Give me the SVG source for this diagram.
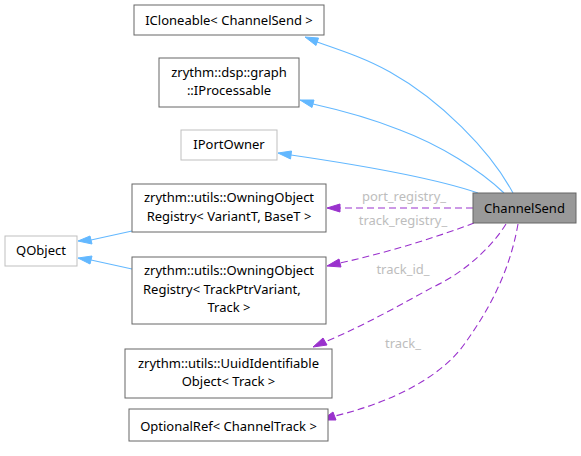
<svg xmlns="http://www.w3.org/2000/svg" width="581" height="456" viewBox="0 0 581 456">
<style>
text{font-family:"Noto Sans","DejaVu Sans",sans-serif;font-size:13px;fill:#000;text-anchor:middle}
.n rect{fill:#fff;stroke:#666;stroke-width:1}
.l rect{fill:#fff;stroke:#bfbfbf;stroke-width:1}
.inh{fill:none;stroke:#63b8ff;stroke-width:1.1}
.use{fill:none;stroke:#9a32cd;stroke-width:1.1;stroke-dasharray:7,4}
.lbl{fill:#bdbdbd}
.ahb{fill:#63b8ff;stroke:#63b8ff}
.ahp{fill:#9a32cd;stroke:#9a32cd}
</style>
<rect width="581" height="456" fill="#fff"/>
<g id="connectors">
<path class="inh" d="M513,193 C490,150 440,100 390,72 C365,58 340,50 317,42"/>
<polygon class="ahb" points="318.5,38 305,37 316,45.5"/>
<path class="inh" d="M504,193 C480,170 440,145 400,130 C370,118 340,110 313,104"/>
<polygon class="ahb" points="314,100 300,100 312,107.5"/>
<path class="inh" d="M478,193 C440,180 380,168 291,155"/>
<polygon class="ahb" points="291.5,151 278,153 290.5,159"/>
<path class="inh" d="M132,231 L91,240"/>
<polygon class="ahb" points="90,236 78,241 92,244"/>
<path class="inh" d="M132,269 L91,260"/>
<polygon class="ahb" points="92,256 78,258 90,264"/>
<path class="use" d="M473,208 L340,208"/>
<polygon class="ahp" points="340,204 327,208 340,212"/>
<text class="lbl" x="404" y="201">port_registry_</text>
<path class="use" d="M474,223 C440,236 390,252 340,263"/>
<polygon class="ahp" points="339,259 327,266 341,267"/>
<text class="lbl" x="403" y="225">track_registry_</text>
<path class="use" d="M506,224 C490,250 460,275 433,287 C400,305 365,325 325,342"/>
<polygon class="ahp" points="323,338 313,347 327,345"/>
<text class="lbl" x="403" y="274">track_id_</text>
<path class="use" d="M518,224 C510,270 490,310 460,350 C430,385 380,405 335,416"/>
<polygon class="ahp" points="333,412 322,420 336,420"/>
<text class="lbl" x="403" y="348">track_</text>
</g>
<g id="ICloneable" class="n"><rect x="134" y="5" width="190" height="30"/><text x="229" y="24.5">ICloneable&lt; ChannelSend &gt;</text></g>
<g id="IProcessable" class="n"><rect x="159" y="58" width="140" height="49"/><text x="229" y="76.5">zrythm::dsp::graph</text><text x="229" y="95">::IProcessable</text></g>
<g id="IPortOwner" class="l"><rect x="181" y="130" width="96" height="30"/><text x="229" y="149">IPortOwner</text></g>
<g id="RegistryVariant" class="n"><rect x="132" y="184" width="194" height="48"/><text x="229" y="202">zrythm::utils::OwningObject</text><text x="229" y="220.5">Registry&lt; VariantT, BaseT &gt;</text></g>
<g id="QObject" class="l"><rect x="5" y="236" width="72" height="30"/><text x="41" y="255">QObject</text></g>
<g id="RegistryTrack" class="n"><rect x="132" y="257" width="194" height="67"/><text x="229" y="275">zrythm::utils::OwningObject</text><text x="143" y="293.5" style="text-anchor:start">Registry&lt; TrackPtrVariant,</text><text x="229" y="312">Track &gt;</text></g>
<g id="UuidIdentifiable" class="n"><rect x="125" y="349" width="207" height="49"/><text x="228.5" y="367.5">zrythm::utils::UuidIdentifiable</text><text x="228.5" y="386">Object&lt; Track &gt;</text></g>
<g id="OptionalRef" class="n"><rect x="129" y="409" width="199" height="32"/><text x="228.5" y="431">OptionalRef&lt; ChannelTrack &gt;</text></g>
<g id="ChannelSend"><rect x="473" y="193" width="103" height="30" fill="#999" stroke="#666"/><text x="524.5" y="212.5">ChannelSend</text></g>
</svg>
